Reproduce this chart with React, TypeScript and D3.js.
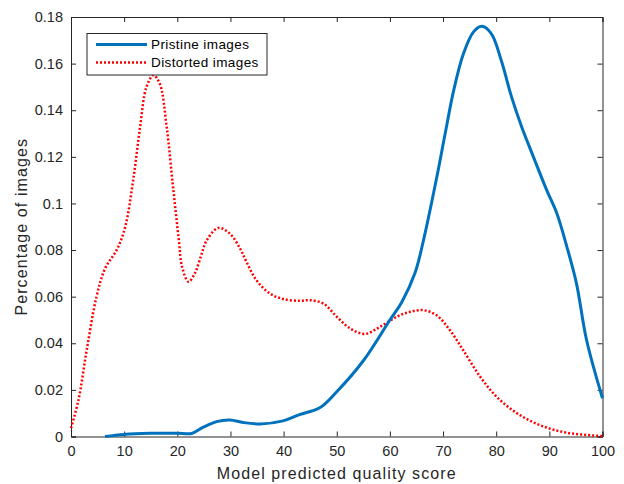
import * as d3 from "d3";
import { useEffect, useRef } from "react";

// Pristine images (x score, y fraction)
const pristineX = [6.4, 9.9, 14.9, 20, 22.7, 24.9, 27.4, 29.9, 32.4, 35.6, 39.9, 43, 46.8, 50, 55, 60, 62.2, 64.7, 66.3, 68.8, 70.4, 72, 73.8, 75.7, 77.3, 79.1, 81, 82.9, 84.8, 87, 89.5, 91.4, 93.3, 95.1, 97, 100];
const pristineY = [0, 0.0009, 0.0014, 0.0014, 0.0013, 0.004, 0.0064, 0.0071, 0.006, 0.0054, 0.0067, 0.0094, 0.0123, 0.0192, 0.0325, 0.05, 0.0575, 0.07, 0.084, 0.111, 0.13, 0.1485, 0.164, 0.1735, 0.176, 0.1728, 0.161, 0.1456, 0.1328, 0.12, 0.1057, 0.0958, 0.0814, 0.0657, 0.0414, 0.0164];

// Distorted images
const distortedX = [0, 1.4, 2.95, 4.8, 6.4, 8.7, 10.2, 11.7, 13, 14.2, 15.5, 16.7, 18, 19.2, 20.3, 20.9, 22.1, 23.3, 24.6, 25.5, 27.7, 29.9, 31.8, 33, 34.9, 37.4, 39.9, 43.1, 45, 47.5, 50, 52.5, 55.3, 58.1, 61.3, 63.8, 66.3, 68.8, 71.3, 73.8, 77, 80.1, 83.9, 88.2, 93.3, 100];
const distortedY = [0.0036, 0.0156, 0.037, 0.06, 0.072, 0.0805, 0.09, 0.11, 0.1328, 0.15, 0.155, 0.1514, 0.1328, 0.107, 0.084, 0.0728, 0.0664, 0.07, 0.0785, 0.084, 0.0895, 0.087, 0.0807, 0.075, 0.067, 0.0614, 0.059, 0.0582, 0.0585, 0.057, 0.0514, 0.0464, 0.044, 0.047, 0.0514, 0.0535, 0.0542, 0.052, 0.0456, 0.037, 0.0256, 0.017, 0.01, 0.0049, 0.0016, 0.0002];

const xTicks = [0, 10, 20, 30, 40, 50, 60, 70, 80, 90, 100];
const yTicks = [0, 0.02, 0.04, 0.06, 0.08, 0.1, 0.12, 0.14, 0.16, 0.18];
const seriesNames = ["Pristine images", "Distorted images"];

const width = 624;
const height = 484;
const left = 71;
const right = 602.5;
const top = 17;
const bottom = 436.5;
const ink = "#262626";
const font = "Liberation Sans, Arial, Helvetica, sans-serif";

function draw(node: SVGSVGElement) {
  const svg = d3.select(node);
  svg.selectAll("*").remove();

  const x = d3.scaleLinear().domain([0, 100]).range([left, right]);
  const y = d3.scaleLinear().domain([0, 0.18]).range([bottom, top]);

  const line = d3
    .line<[number, number]>()
    .x((d) => x(d[0]))
    .y((d) => y(d[1]))
    .curve(d3.curveCatmullRom.alpha(0.5));

  const pristine = pristineX.map((v, i) => [v, pristineY[i]] as [number, number]);
  const distorted = distortedX.map((v, i) => [v, distortedY[i]] as [number, number]);

  const fmt = (d: number) => (d === 0 ? "0" : String(+d.toFixed(2)));

  // axes with inward ticks
  const gx = svg.append("g").attr("transform", `translate(0,${bottom})`)
    .call(d3.axisBottom(x).tickValues(xTicks).tickSize(-5).tickPadding(9).tickFormat((d) => String(d)));
  const gxt = svg.append("g").attr("transform", `translate(0,${top})`)
    .call(d3.axisTop(x).tickValues(xTicks).tickSize(-5).tickFormat(() => ""));
  const gy = svg.append("g").attr("transform", `translate(${left},0)`)
    .call(d3.axisLeft(y).tickValues(yTicks).tickSize(-5).tickPadding(8).tickFormat((d) => fmt(d as number)));
  const gyr = svg.append("g").attr("transform", `translate(${right},0)`)
    .call(d3.axisRight(y).tickValues(yTicks).tickSize(-5).tickFormat(() => ""));

  [gx, gxt, gy, gyr].forEach((g) => {
    g.select(".domain").attr("stroke", ink).attr("stroke-width", 1);
    g.selectAll(".tick line").attr("stroke", ink);
    g.selectAll(".tick text").attr("fill", ink).style("font", `14.5px ${font}`);
  });

  svg.append("path")
    .attr("d", line(distorted))
    .attr("fill", "none")
    .attr("stroke", "#FF0000")
    .attr("stroke-width", 2.5)
    .attr("stroke-dasharray", "2,2");

  svg.append("path")
    .attr("d", line(pristine))
    .attr("fill", "none")
    .attr("stroke", "#0072BD")
    .attr("stroke-width", 3);

  // legend
  const lg = svg.append("g");
  lg.append("rect")
    .attr("x", 87).attr("y", 33.5).attr("width", 180).attr("height", 41.5)
    .attr("fill", "white").attr("stroke", ink).attr("stroke-width", 1);
  const styles = [
    { color: "#0072BD", dash: null, w: 3 },
    { color: "#FF0000", dash: "2,2", w: 2.5 },
  ];
  seriesNames.forEach((name, i) => {
    const yy = 44.5 + i * 18;
    lg.append("line")
      .attr("x1", 96).attr("x2", 147).attr("y1", yy).attr("y2", yy)
      .attr("stroke", styles[i].color).attr("stroke-width", styles[i].w)
      .attr("stroke-dasharray", styles[i].dash);
    lg.append("text")
      .attr("x", 151).attr("y", yy).attr("dy", "0.35em")
      .attr("fill", "#000").style("font", `13.5px ${font}`)
      .style("letter-spacing", "0.4px")
      .text(name);
  });

  // axis titles
  svg.append("text")
    .attr("x", (left + right) / 2).attr("y", 478.5)
    .attr("text-anchor", "middle").attr("fill", ink)
    .style("font", `16px ${font}`)
    .style("letter-spacing", "1.1px")
    .text("Model predicted quality score");
  svg.append("text")
    .attr("transform", `translate(27,${(top + bottom) / 2}) rotate(-90)`)
    .attr("text-anchor", "middle").attr("fill", ink)
    .style("font", `16px ${font}`)
    .style("letter-spacing", "1.1px")
    .text("Percentage of images");
}

export default function App() {
  const ref = useRef<SVGSVGElement | null>(null);
  useEffect(() => {
    if (ref.current) draw(ref.current);
  }, []);
  return (
    <svg
      ref={ref}
      width={width}
      height={height}
      style={{ position: "absolute", left: 0, top: 0, background: "white" }}
    />
  );
}
